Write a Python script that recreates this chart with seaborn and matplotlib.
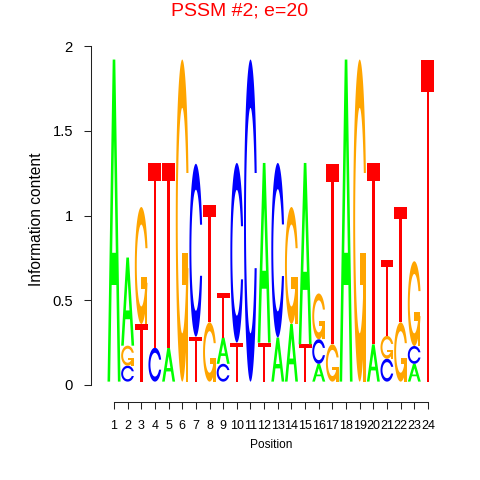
import numpy as np
import matplotlib
matplotlib.use("Agg")
import matplotlib.pyplot as plt
from matplotlib.patches import Polygon
import seaborn as sns

# ---- data (information content per letter) ----
positions = list(range(1, 25))
height_A = [1.90, 0.52, 0, 0, 0.20, 0, 0, 0, 0.155, 0, 0, 1.06,
            0.26, 0.34, 1.07, 0.105, 0, 1.90, 0, 0.22, 0, 0, 0.105, 0]
height_C = [0, 0.094, 0, 0.20, 0, 0, 1.02, 0, 0.105, 1.06, 1.90, 0,
            1.03, 0, 0, 0.145, 0, 0, 0, 0, 0.135, 0, 0.105, 0]
height_G = [0, 0.118, 0.69, 0, 0, 1.90, 0, 0.35, 0, 0, 0, 0,
            0, 0.69, 0, 0.27, 0.22, 0, 1.90, 0, 0.135, 0.35, 0.50, 0]
height_T = [0, 0, 0.34, 1.09, 1.09, 0, 0.265, 0.69, 0.26, 0.23, 0, 0.23,
            0, 0, 0.22, 0, 1.066, 0, 0, 1.07, 0.45, 0.68, 0, 1.90]
letters = ["A", "C", "G", "T"]
y_ticks = [0, 0.5, 1, 1.5, 2]
y_ticklabels = ["0", "0.5", "1", "1.5", "2"]
title = "PSSM #2; e=20"
x_label = "Position"
y_label = "Information content"

colors = {"A": "#00FF00", "C": "#0000FF", "G": "#FFA500", "T": "#FF0000"}
LETTER_WIDTH = 0.95
STACK_BASE = 0.02


# ---- letter glyph polygons (unit box), in the style of seqLogo ----
def ring():
    a1 = np.linspace(0.3 + np.pi / 2, np.pi, 100)
    a2 = np.linspace(np.pi, 1.5 * np.pi, 100)
    xl1, yl1 = 0.5 + 0.5 * np.sin(a1), 0.5 + 0.5 * np.cos(a1)
    xl2, yl2 = 0.5 + 0.5 * np.sin(a2), 0.5 + 0.5 * np.cos(a2)
    xl = np.concatenate([xl1, xl2])
    yl = np.concatenate([yl1, yl2])
    x = np.concatenate([xl, xl[::-1]])
    y = np.concatenate([yl, 1 - yl[::-1]])
    xi1, yi1 = 0.5 + 0.35 * np.sin(a1), 0.5 + 0.35 * np.cos(a1)
    m = yi1 <= yl1.max()
    xi1, yi1 = xi1[m], yi1[m].copy()
    yi1[0] = yl1.max()
    xi2, yi2 = 0.5 + 0.35 * np.sin(a2), 0.5 + 0.35 * np.cos(a2)
    xi = np.concatenate([xi1, xi2])
    yi = np.concatenate([yi1, yi2])
    x1 = np.concatenate([xi, xi[::-1]])
    y1 = np.concatenate([yi, 1 - yi[::-1]])
    x = np.concatenate([x, x1[::-1]])
    y = np.concatenate([y, y1[::-1]])
    return x, y, xl1.max()


def glyph(letter):
    if letter == "A":
        ox = 0.1 * np.array([0, 4, 6, 10, 8, 6.8, 3.2, 2, 0])
        oy = 0.1 * np.array([0, 10, 10, 0, 0, 3, 3, 0, 0])
        ix = 0.1 * np.array([3.6, 5, 6.4, 3.6])
        iy = 0.1 * np.array([4, 7.5, 4, 4])
        return [(ox, oy, None), (ix, iy, "white")]
    if letter == "C":
        x, y, _ = ring()
        return [(x, y, None)]
    if letter == "G":
        x, y, r1 = ring()
        h1 = 0.4
        ax_ = np.array([r1, 0.5, 0.5, r1 - 0.2, r1 - 0.2, r1, r1])
        ay_ = np.array([h1, h1, h1 - 0.1, h1 - 0.1, 0, 0, h1])
        return [(x, y, None), (ax_, ay_, None)]
    tx = 0.1 * np.array([0, 10, 10, 6, 6, 4, 4, 0])
    ty = 0.1 * np.array([10, 10, 9, 9, 0, 0, 9, 9])
    return [(tx, ty, None)]


# ---- figure ----
sns.set_theme(style="ticks")
plt.rcParams["font.family"] = ["Liberation Sans", "DejaVu Sans"]

fig = plt.figure(figsize=(4.8, 4.8), dpi=100)
ax = fig.add_axes([91 / 480, 95 / 480, (440 - 91) / 480, (385 - 46) / 480])
ax.set_facecolor("white")

heights = {"A": height_A, "C": height_C, "G": height_G, "T": height_T}
for j, p in enumerate(positions):
    col = np.array([heights[l][j] for l in letters])
    order = np.argsort(col, kind="stable")
    ypos = STACK_BASE
    for k in order:
        ht = col[k]
        if ht <= 0:
            continue
        l = letters[k]
        for gx, gy, fill in glyph(l):
            X = p - LETTER_WIDTH / 2 + LETTER_WIDTH * gx
            Y = ypos + ht * gy
            ax.add_patch(Polygon(np.column_stack([X, Y]), closed=True,
                                 facecolor=fill or colors[l],
                                 edgecolor="none", lw=0, zorder=3 if fill else 2))
        ypos += ht

step = 13.65
x0 = positions[0] - (114 - 91) / step
x1 = positions[0] + (440 - 114) / step
ax.set_xlim(x0, x1)
ax.set_ylim(0, 2)

ax.set_xticks(positions)
ax.set_xticklabels([str(p) for p in positions])
ax.set_yticks(y_ticks)
ax.set_yticklabels(y_ticklabels)

sns.despine(ax=ax)
ax.spines["bottom"].set_position(("outward", 12))
ax.spines["bottom"].set_bounds(positions[0], positions[-1])
ax.spines["left"].set_bounds(y_ticks[0], y_ticks[-1])
for s in ("bottom", "left"):
    ax.spines[s].set_linewidth(0.75)
    ax.spines[s].set_color("#222222")
ax.tick_params(axis="both", length=5, width=0.75, color="#222222",
               direction="out", labelcolor="black")
ax.tick_params(axis="x", labelsize=9, pad=8)
ax.tick_params(axis="y", labelsize=10.6, pad=8)
ax.grid(False)

mid = (positions[0] + positions[-1]) / 2
ax.set_xlabel(x_label, fontsize=8.6, color="black")
ax.xaxis.set_label_coords((mid - x0) / (x1 - x0), -(445 - 385) / 339)
ax.xaxis.label.set_va("center")
ax.set_ylabel(y_label, fontsize=11.2, color="black", va="center")
ax.yaxis.set_label_coords(-(91 - 37) / 349, (385 - 219.5) / 339)

fig.text(0.5, 1 - 15 / 480, title, color="#FF0000", fontsize=14,
         ha="center", va="baseline")

fig.savefig("out.png", dpi=100, facecolor="white")
